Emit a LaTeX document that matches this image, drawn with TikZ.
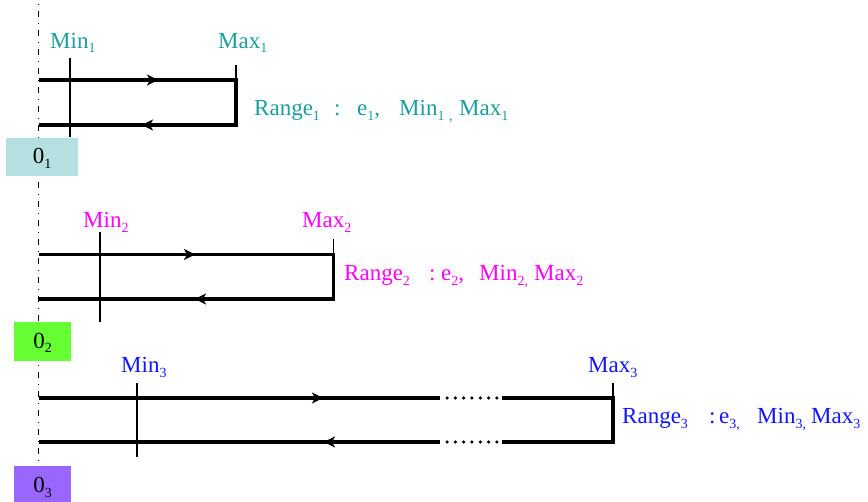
\documentclass[tikz,border=0pt]{standalone}
\usepackage{fontspec}
\setmainfont{Liberation Serif}
\usetikzlibrary{arrows.meta,decorations.markings}

\definecolor{tealtxt}{HTML}{1A9E9E}
\definecolor{tealbox}{HTML}{B5DFE1}
\definecolor{greenbox}{HTML}{66FF33}
\definecolor{purplebox}{HTML}{9966FF}
\definecolor{magtxt}{HTML}{FF00FF}
\definecolor{bluetxt}{HTML}{1414FF}

% lowered small index
\newcommand\sbs[1]{\raisebox{-4.5pt}{\fontsize{14}{14}\selectfont #1}}
% fixed-width slot for one piece of a range description
\newcommand\slot[2]{\makebox[#1][l]{#2}}

\begin{document}
\begin{tikzpicture}[x=1pt,y=-1pt,
  font=\fontsize{23}{27}\selectfont,
  track/.style={line width=3.5pt},
  dotted track/.style={line width=3.5pt, line cap=round, dash pattern=on 0pt off 8.33pt},
  tickline/.style={line width=1.8pt},
  axisline/.style={line width=1.6pt, dash pattern=on 6.5pt off 5.5pt on 1.5pt off 5.5pt, dash phase=8pt},
  tip/.tip={Stealth[length=11pt,width=11pt,inset=3pt]},
  flow/.style={postaction={decorate},
    decoration={markings, mark=at position #1 with {\arrow{tip}}}},
  flow2/.style 2 args={postaction={decorate},
    decoration={markings,
      mark=at position #1 with {\arrow{tip}},
      mark=at position #2 with {\arrow{tip}}}},
  lbl/.style={anchor=base west, inner sep=0pt},
  origin/.style={fill=#1, inner sep=0pt, text height=14pt, text depth=0pt,
    anchor=center, text=black}
]
\useasboundingbox (0,0) rectangle (868,502);

% common origin axis
\coordinate (axtop) at (38.5,0);
\coordinate (axbot) at (38.5,502);
\draw[axisline] (axtop) -- (axbot);

% ---------- range 1 ----------
\coordinate (o1t) at (38.5,80);
\coordinate (c1t) at (236,80);
\coordinate (c1b) at (236,125);
\coordinate (o1b) at (38.5,125);
\draw[track, flow2={119.5pt}{336.5pt}] (o1t) -- (c1t) -- (c1b) -- (o1b);
\coordinate (mn1a) at (70,58);
\coordinate (mn1b) at (70,137);
\coordinate (mx1a) at (236,65);
\draw[tickline] (mn1a) -- (mn1b);
\draw[tickline] (mx1a) -- (c1t);
\node[lbl, text=tealtxt] (min1) at (50,48.3) {Min\sbs{1}};
\node[lbl, text=tealtxt] (max1) at (218,48.3) {Max\sbs{1}};
\node[lbl, text=tealtxt] (rng1) at (254,116)
  {\slot{80pt}{Range\sbs{1}}\slot{23pt}{:}\slot{42pt}{e\sbs{1},}\slot{50pt}{Min\sbs{1}}\slot{10pt}{\sbs{,}}Max\sbs{1}};
\node[origin=tealbox, minimum width=72pt, minimum height=38pt] (b1) at (42,157) {0\sbs{1}};

% ---------- range 2 ----------
\coordinate (o2t) at (38.5,254.5);
\coordinate (c2t) at (333.5,254.5);
\coordinate (c2b) at (333.5,299);
\coordinate (o2b) at (38.5,299);
\draw[track, flow2={156.5pt}{478pt}] (o2t) -- (c2t) -- (c2b) -- (o2b);
\coordinate (mn2a) at (100,232);
\coordinate (mn2b) at (100,322);
\coordinate (mx2a) at (333.5,239);
\draw[tickline] (mn2a) -- (mn2b);
\draw[tickline] (mx2a) -- (c2t);
\node[lbl, text=magtxt] (min2) at (83,228) {Min\sbs{2}};
\node[lbl, text=magtxt] (max2) at (302,228) {Max\sbs{2}};
\node[lbl, text=magtxt] (rng2) at (344,281)
  {\slot{85pt}{Range\sbs{2}}\slot{12pt}{:}\slot{38pt}{e\sbs{2},}\slot{55pt}{Min\sbs{2,}}Max\sbs{2}};
\node[origin=greenbox, minimum width=57pt, minimum height=39pt] (b2) at (42.5,341.5) {0\sbs{2}};

% ---------- range 3 ----------
\coordinate (o3t) at (38.5,398);
\coordinate (g3t) at (440,398);
\coordinate (d3t) at (447,398);
\coordinate (e3t) at (498,398);
\coordinate (h3t) at (502,398);
\coordinate (c3t) at (613,398);
\coordinate (c3b) at (613,442);
\coordinate (h3b) at (502,442);
\coordinate (e3b) at (498,442);
\coordinate (d3b) at (447,442);
\coordinate (g3b) at (440,442);
\coordinate (o3b) at (38.5,442);
\draw[track, flow={284.5pt}] (o3t) -- (g3t);
\draw[dotted track] (d3t) -- (e3t);
\draw[track] (h3t) -- (c3t) -- (c3b) -- (h3b);
\draw[dotted track] (d3b) -- (e3b);
\draw[track, flow={116pt}] (g3b) -- (o3b);
\coordinate (mn3a) at (137,383);
\coordinate (mn3b) at (137,457);
\coordinate (mx3a) at (613,383);
\draw[tickline] (mn3a) -- (mn3b);
\draw[tickline] (mx3a) -- (c3t);
\node[lbl, text=bluetxt] (min3) at (121,373) {Min\sbs{3}};
\node[lbl, text=bluetxt] (max3) at (588,373) {Max\sbs{3}};
\node[lbl, text=bluetxt] (rng3) at (622,424)
  {\slot{87pt}{Range\sbs{3}}\slot{10pt}{:}\slot{38pt}{e\sbs{3,}}\slot{54pt}{Min\sbs{3,}}Max\sbs{3}};
\node[origin=purplebox, minimum width=57pt, minimum height=40pt] (b3) at (42.5,486) {0\sbs{3}};
\end{tikzpicture}
\end{document}
